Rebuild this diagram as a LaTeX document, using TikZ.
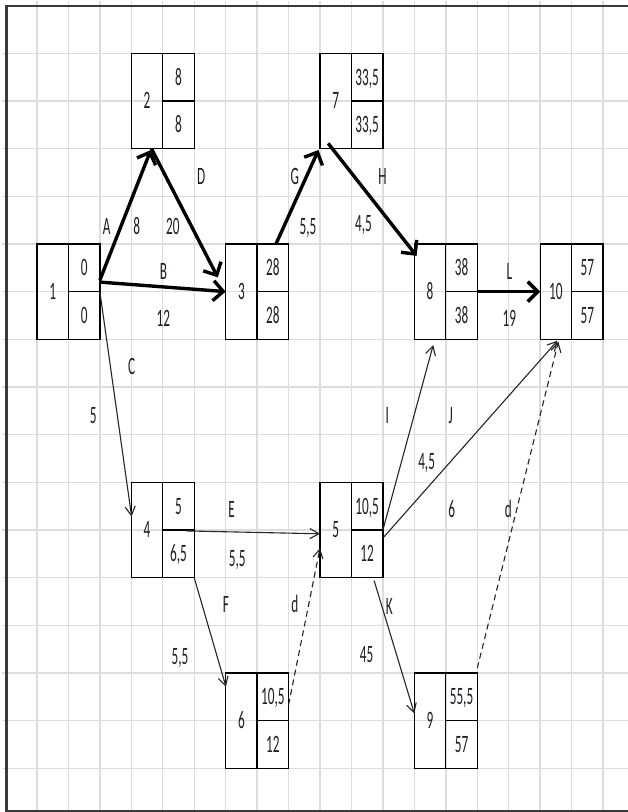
\documentclass[tikz,border=0pt]{standalone}
\usepackage{fontspec}
\setmainfont{Carlito}[FakeStretch=0.53]
\usetikzlibrary{arrows.meta,calc}
\definecolor{gridgray}{HTML}{DDDDDD}
\definecolor{bordergray}{HTML}{3A3A3A}
\definecolor{inkcol}{HTML}{1E1E28}
\tikzset{
 gridline/.style={draw=gridgray, line width=1.4pt},
 frameline/.style={draw=bordergray, line width=2.2pt},
 evbox/.style={draw=black, line width=1.3pt, rectangle, minimum width=62.9pt, minimum height=95.34pt, inner sep=0pt, outer sep=0pt, anchor=north west},
 divider/.style={draw=black, line width=1.3pt},
 txt/.style={inner sep=0pt, text height=16pt, text depth=0pt, font=\fontsize{25}{25}\selectfont, text=inkcol},
 crit/.style={draw=black, line width=3.4pt, -{Straight Barb[length=10pt,width=20pt]}},
 act/.style={draw=black!85, line width=1.1pt, -{Straight Barb[length=9pt,width=10pt]}},
 dummy/.style={act, dash pattern=on 6pt off 4pt},
}
\newcommand\evbox[6]{%
  \node[evbox] (#1) at (#2,#3) {};
  \draw[divider] (#1.north) -- (#1.south) (#1.center) -- (#1.east);
  \node[txt] (#1n) at ($(#1.north west)+(0.5,1)$) {#4};
  \node[txt] (#1t) at ($(#1.north west)+(1.5,0.5)$) {#5};
  \node[txt] (#1b) at ($(#1.north west)+(1.5,1.5)$) {#6};
}
\begin{document}
\begin{tikzpicture}[x=1pt,y=1pt]
\useasboundingbox (0,0) rectangle (628,-812);
\fill[white] (0,0) rectangle (628,-812);
\begin{scope}[shift={(5.5pt,-5.6pt)}, x=31.45pt, y=-47.67pt]
% grid
\foreach \i in {1,...,19} \draw[gridline] (\i,-0.1) -- (\i,16.95);
\foreach \j in {1,...,16} \draw[gridline] (-0.12,\j) -- (19.9,\j);
% frame
\draw[frameline] (19.9,0) -- (0.03,0) -- (0.03,16.9) -- (19.9,16.9);
% event boxes
\evbox{n1}{1}{5}{1}{0}{0}
\evbox{n2}{4}{1}{2}{8}{8}
\evbox{n3}{7}{5}{3}{28}{28}
\evbox{n7}{10}{1}{7}{33,5}{33,5}
\evbox{n8}{13}{5}{8}{38}{38}
\evbox{n10}{17}{5}{10}{57}{57}
\evbox{n4}{4}{10}{4}{5}{6,5}
\evbox{n5}{10}{10}{5}{10,5}{12}
\evbox{n6}{7}{14}{6}{10,5}{12}
\evbox{n9}{13}{14}{9}{55,5}{57}
% critical activities
\draw[crit] ($(n1.north west)+(2,0.76)$) -- ($(n2.north west)+(0.62,2.03)$);
\draw[crit] ($(n2.north west)+(0.64,2)$) -- ($(n3.north west)+(-0.25,0.7)$);
\draw[crit] ($(n1.north west)+(2,0.8)$) -- (n3.west);
\draw[crit] ($(n3.north west)+(1.6,0)$) -- ($(n7.north west)+(-0.05,2.03)$);
\draw[crit] ($(n7.north west)+(0.26,1.89)$) -- ($(n8.north west)+(0.07,0.25)$);
\draw[crit] (n8.east) -- (n10.west);
% other activities
\draw[act] (n1.east) -- ($(n4.north west)+(0.01,0.72)$);
\draw[act] ($(n4.north west)+(1.76,1.02)$) -- ($(n5.north west)+(0,1.08)$);
\draw[act] (n4.south east) -- ($(n6.north west)+(0.01,0.29)$);
\draw[act] (n5.east) -- ($(n8.north west)+(0.6,2.12)$);
\draw[act] ($(n5.north west)+(2,1.17)$) -- ($(n10.north west)+(0.55,2.03)$);
\draw[act] ($(n5.north west)+(1.72,2.06)$) -- ($(n9.north west)+(0,0.85)$);
% dummies
\draw[dummy] ($(n6.north west)+(2,0.67)$) -- ($(n5.north west)+(0,1.38)$);
\draw[dummy] ($(n9.north west)+(2,-0.1)$) -- ($(n10.north west)+(0.58,2.05)$);
% labels
\node[txt] (lA) at (3.22,4.64) {A};
\node[txt] (tA) at (4.17,4.64) {8};
\node[txt] (tD) at (5.32,4.64) {20};
\node[txt] (lD) at (6.22,3.59) {D};
\node[txt] (lG) at (9.2,3.59) {G};
\node[txt] (tG) at (9.62,4.64) {5,5};
\node[txt] (lH) at (11.99,3.59) {H};
\node[txt] (tH) at (11.38,4.58) {4,5};
\node[txt] (lB) at (5.02,5.58) {B};
\node[txt] (tB) at (5.02,6.56) {12};
\node[txt] (lL) at (16.02,5.58) {L};
\node[txt] (tL) at (16.02,6.56) {19};
\node[txt] (lC) at (4.01,7.58) {C};
\node[txt] (tC) at (2.79,8.59) {5};
\node[txt] (lI) at (12.14,8.59) {I};
\node[txt] (lJ) at (14.16,8.59) {J};
\node[txt] (tI) at (13.39,9.57) {4,5};
\node[txt] (tJ) at (14.19,10.58) {6};
\node[txt] (ld2) at (15.99,10.58) {d};
\node[txt] (lE) at (7.19,10.58) {E};
\node[txt] (tE) at (7.37,11.59) {5,5};
\node[txt] (lF) at (7.01,12.57) {F};
\node[txt] (ld1) at (9.2,12.57) {d};
\node[txt] (tF) at (5.55,13.66) {5,5};
\node[txt] (lK) at (12.2,12.61) {K};
\node[txt] (tK) at (11.48,13.62) {45};
\end{scope}
\end{tikzpicture}
\end{document}
